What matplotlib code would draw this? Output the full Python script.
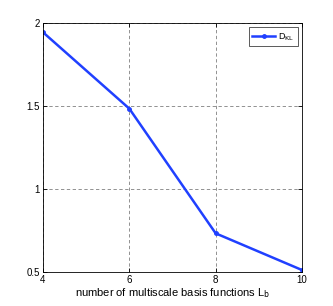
import matplotlib
matplotlib.use('Agg')
import matplotlib.pyplot as plt

# values
n_basis = [4, 6, 8, 10]
d_kl = [1.944, 1.484, 0.733, 0.512]
x_ticks = [4, 6, 8, 10]
y_ticks = [0.5, 1, 1.5, 2]
y_tick_labels = ['0.5', '1', '1.5', '2']

plt.rcParams['font.family'] = ['Liberation Sans', 'DejaVu Sans']

fig = plt.figure(figsize=(3.33, 3.06), dpi=100)
ax = fig.add_axes([0.129, 0.111, 0.778, 0.814])

ax.plot(n_basis, d_kl, color='#2040ff', linewidth=1.8, marker='o', markersize=2.5,
        label=r'D$_{\mathrm{KL}}$')

ax.set_xlim(4, 10)
ax.set_ylim(0.5, 2)
ax.set_xticks(x_ticks)
ax.set_yticks(y_ticks)
ax.set_yticklabels(y_tick_labels)
ax.tick_params(direction='in', labelsize=7, length=3, width=0.6, top=True, right=True, pad=2)
ax.grid(True, linestyle=(0, (4, 3)), color='#808080', linewidth=0.6)
for s in ax.spines.values():
    s.set_linewidth(0.6)

ax.set_xlabel(r'number of multiscale basis functions L$_\mathrm{b}$', fontsize=8, labelpad=1)

leg = ax.legend(loc='upper right', fontsize=6.5, fancybox=False, framealpha=1,
                edgecolor='#404040', handlelength=2.5, borderpad=0.4, handletextpad=0.3)
leg.get_frame().set_linewidth(0.6)

fig.savefig('out.png', dpi=100)
